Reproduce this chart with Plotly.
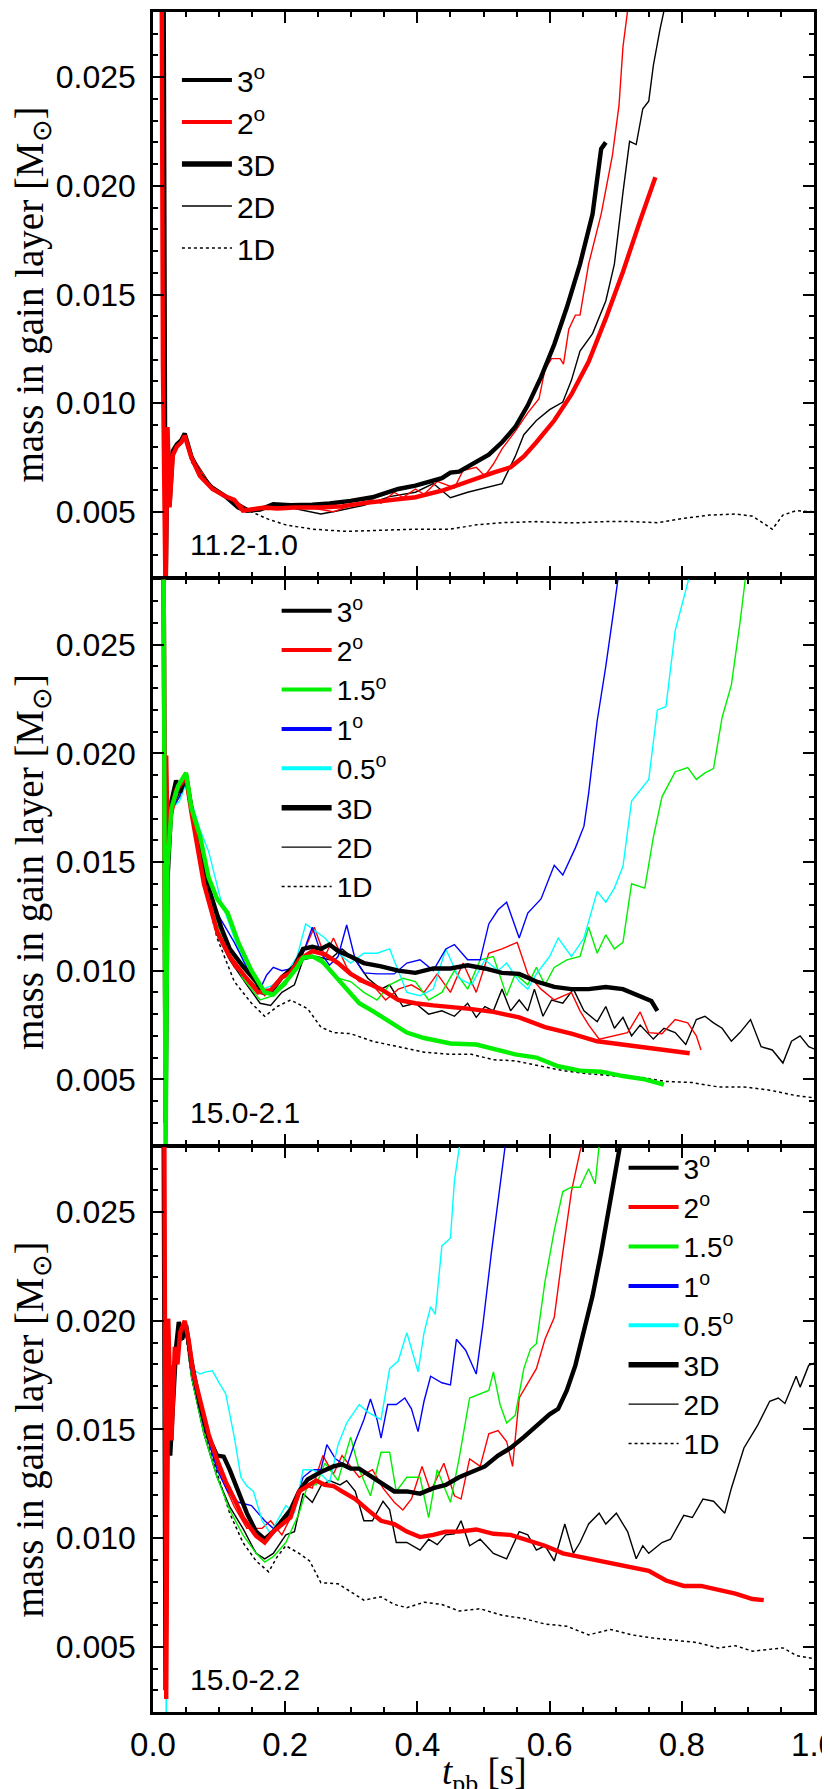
import plotly.graph_objects as go
from plotly.subplots import make_subplots

# ---------------- data: (t_pb [s], mass in gain layer [1e-3 Msun]) ----------------
# Panel 1: 11.2-1.0
p1_3d_3deg = [(0.012, 40), (0.016, 30), (0.019, 1.0), (0.022, 8.5), (0.025, 5.3), (0.030, 7.8), (0.036, 8.1), (0.043, 8.3), (0.048, 8.6), (0.053, 8.0), (0.058, 7.55), (0.071, 6.7), (0.090, 6.1), (0.110, 5.7), (0.129, 5.2), (0.142, 5.05), (0.162, 5.1), (0.182, 5.35), (0.208, 5.3), (0.241, 5.33), (0.267, 5.38), (0.299, 5.5), (0.332, 5.67), (0.371, 6.05), (0.397, 6.2), (0.437, 6.55), (0.450, 6.8), (0.463, 6.85), (0.489, 7.3), (0.508, 7.63), (0.528, 8.2), (0.548, 8.9), (0.567, 9.9), (0.587, 11.2), (0.607, 12.7), (0.626, 14.4), (0.646, 16.4), (0.665, 18.7), (0.678, 21.7), (0.685, 22.0)]
p1_3d_2deg = [(0.012, 40), (0.015, 11.7), (0.019, 1.0), (0.022, 8.9), (0.025, 5.2), (0.030, 7.6), (0.036, 8.0), (0.043, 8.2), (0.048, 8.5), (0.053, 7.9), (0.058, 7.5), (0.071, 6.65), (0.090, 6.05), (0.110, 5.7), (0.123, 5.55), (0.136, 5.05), (0.149, 5.1), (0.169, 5.2), (0.188, 5.15), (0.214, 5.2), (0.254, 5.2), (0.286, 5.25), (0.319, 5.4), (0.358, 5.55), (0.397, 5.67), (0.437, 5.97), (0.476, 6.4), (0.515, 6.8), (0.541, 7.05), (0.561, 7.55), (0.580, 8.2), (0.607, 9.2), (0.633, 10.4), (0.659, 11.9), (0.685, 13.9), (0.711, 16.05), (0.737, 18.4), (0.760, 20.4)]
p1_2d_2deg = [(0.022, 7.0), (0.030, 7.6), (0.040, 8.2), (0.048, 8.5), (0.058, 7.6), (0.090, 6.05), (0.123, 5.55), (0.142, 5.1), (0.175, 5.1), (0.208, 5.25), (0.241, 5.17), (0.273, 5.0), (0.299, 5.3), (0.332, 5.55), (0.345, 5.4), (0.365, 5.9), (0.378, 5.65), (0.397, 6.05), (0.410, 5.8), (0.430, 6.4), (0.456, 6.1), (0.469, 6.9), (0.489, 7.05), (0.502, 6.65), (0.515, 7.2), (0.528, 7.9), (0.548, 8.7), (0.567, 9.55), (0.584, 10.2), (0.593, 11.55), (0.603, 12.05), (0.616, 12.05), (0.621, 11.8), (0.629, 13.4), (0.639, 14.05), (0.646, 14.05), (0.659, 16.4), (0.678, 18.7), (0.695, 21.4), (0.705, 23.7), (0.711, 26.4), (0.718, 28.05), (0.722, 29.0)]
p1_2d_3deg = [(0.022, 7.2), (0.030, 7.8), (0.040, 8.2), (0.048, 8.5), (0.058, 7.6), (0.090, 6.1), (0.123, 5.5), (0.149, 5.05), (0.182, 5.35), (0.214, 5.15), (0.254, 4.9), (0.280, 5.05), (0.319, 5.3), (0.358, 5.7), (0.397, 5.9), (0.424, 6.3), (0.450, 5.65), (0.476, 5.9), (0.502, 6.1), (0.528, 6.3), (0.548, 7.55), (0.561, 8.55), (0.580, 9.2), (0.600, 9.7), (0.620, 10.05), (0.633, 11.05), (0.646, 12.4), (0.665, 13.2), (0.685, 14.7), (0.698, 16.4), (0.711, 19.7), (0.721, 22.05), (0.731, 21.9), (0.741, 23.55), (0.750, 23.9), (0.757, 25.55), (0.767, 27.2), (0.773, 28.05), (0.776, 29.0)]
p1_1d = [(0.022, 7.0), (0.035, 7.9), (0.048, 8.4), (0.058, 7.3), (0.090, 6.05), (0.123, 5.5), (0.149, 5.0), (0.175, 4.65), (0.201, 4.4), (0.241, 4.2), (0.293, 4.1), (0.345, 4.15), (0.397, 4.2), (0.450, 4.2), (0.489, 4.4), (0.528, 4.5), (0.580, 4.55), (0.620, 4.5), (0.646, 4.5), (0.685, 4.55), (0.724, 4.55), (0.763, 4.5), (0.803, 4.7), (0.842, 4.85), (0.881, 4.9), (0.907, 4.8), (0.920, 4.55), (0.937, 4.2), (0.953, 4.85), (0.973, 5.05), (0.999, 5.0)]

# Panel 2: 15.0-2.1
p2_3d_3deg = [(0.012, 40), (0.016, 30), (0.019, 3.0), (0.022, 14.2), (0.028, 17.8), (0.035, 18.75), (0.041, 18.2), (0.050, 19.0), (0.058, 17.5), (0.067, 16.2), (0.077, 14.5), (0.090, 13.2), (0.103, 12.0), (0.116, 11.0), (0.136, 10.2), (0.156, 9.5), (0.165, 9.0), (0.178, 9.0), (0.195, 9.7), (0.214, 10.2), (0.227, 11.0), (0.241, 11.1), (0.254, 11.0), (0.267, 11.2), (0.280, 10.9), (0.299, 10.65), (0.319, 10.35), (0.345, 10.2), (0.371, 10.0), (0.397, 9.9), (0.424, 10.1), (0.450, 10.1), (0.476, 10.25), (0.502, 10.1), (0.528, 9.9), (0.554, 9.85), (0.580, 9.5), (0.607, 9.25), (0.633, 9.15), (0.659, 9.15), (0.685, 9.25), (0.711, 9.15), (0.737, 8.85), (0.754, 8.6), (0.763, 8.15)]
p2_3d_2deg = [(0.012, 40), (0.016, 30), (0.019, 3.0), (0.020, 19.9), (0.022, 16.0), (0.028, 17.3), (0.035, 18.3), (0.050, 18.9), (0.058, 17.3), (0.077, 14.0), (0.097, 11.8), (0.116, 10.65), (0.136, 9.85), (0.159, 9.0), (0.178, 9.1), (0.195, 9.7), (0.208, 9.9), (0.221, 10.5), (0.241, 10.9), (0.260, 10.75), (0.280, 10.35), (0.299, 9.85), (0.319, 9.5), (0.345, 9.15), (0.371, 8.65), (0.397, 8.5), (0.424, 8.4), (0.450, 8.35), (0.476, 8.25), (0.515, 8.1), (0.554, 7.85), (0.593, 7.4), (0.633, 7.1), (0.672, 6.75), (0.711, 6.6), (0.750, 6.4), (0.790, 6.25), (0.812, 6.2)]
p2_3d_15deg = [(0.012, 40), (0.016, 30), (0.019, 1.0), (0.022, 14.8), (0.028, 17.5), (0.038, 18.5), (0.050, 19.1), (0.058, 17.5), (0.071, 16.2), (0.084, 14.3), (0.097, 13.3), (0.113, 12.65), (0.129, 11.3), (0.149, 10.0), (0.169, 9.0), (0.182, 8.9), (0.201, 9.5), (0.218, 10.15), (0.227, 10.6), (0.241, 10.65), (0.254, 10.5), (0.273, 9.85), (0.293, 9.15), (0.312, 8.5), (0.332, 8.15), (0.358, 7.65), (0.384, 7.15), (0.410, 6.9), (0.450, 6.65), (0.489, 6.6), (0.515, 6.4), (0.548, 6.15), (0.580, 6.0), (0.613, 5.6), (0.646, 5.4), (0.678, 5.35), (0.711, 5.15), (0.744, 5.0), (0.773, 4.75)]
p2_2d_1deg = [(0.022, 15.0), (0.030, 17.5), (0.040, 18.0), (0.050, 18.8), (0.058, 17.65), (0.077, 14.8), (0.097, 12.65), (0.116, 11.65), (0.123, 11.3), (0.142, 10.15), (0.162, 9.15), (0.172, 9.8), (0.182, 10.15), (0.195, 10.0), (0.211, 10.1), (0.227, 10.8), (0.241, 12.0), (0.254, 10.8), (0.267, 10.25), (0.280, 10.65), (0.293, 12.1), (0.306, 10.5), (0.319, 9.9), (0.339, 9.85), (0.365, 9.85), (0.384, 10.35), (0.404, 10.5), (0.424, 10.0), (0.443, 11.0), (0.456, 11.2), (0.476, 10.5), (0.495, 10.5), (0.508, 12.15), (0.522, 12.8), (0.535, 13.15), (0.554, 11.5), (0.567, 12.65), (0.587, 13.3), (0.607, 14.85), (0.620, 14.4), (0.639, 15.65), (0.652, 16.65), (0.659, 18.15), (0.672, 21.5), (0.685, 24.0), (0.698, 26.8), (0.705, 28.2), (0.710, 29.5)]
p2_2d_05deg = [(0.022, 15.0), (0.030, 17.5), (0.040, 17.8), (0.050, 18.6), (0.058, 17.8), (0.071, 16.5), (0.084, 15.5), (0.103, 13.2), (0.123, 11.5), (0.142, 10.0), (0.162, 9.1), (0.182, 9.35), (0.201, 9.85), (0.218, 10.65), (0.231, 12.15), (0.247, 11.8), (0.260, 11.5), (0.280, 10.8), (0.299, 10.35), (0.319, 10.8), (0.339, 10.8), (0.358, 11.0), (0.371, 10.0), (0.384, 9.0), (0.404, 8.85), (0.424, 9.15), (0.443, 11.0), (0.463, 9.65), (0.482, 9.35), (0.502, 10.5), (0.522, 10.0), (0.535, 10.35), (0.554, 9.5), (0.567, 9.15), (0.580, 9.85), (0.600, 10.65), (0.613, 11.5), (0.633, 10.65), (0.652, 11.5), (0.672, 13.65), (0.685, 13.15), (0.698, 13.8), (0.711, 14.8), (0.724, 17.8), (0.737, 18.3), (0.750, 18.8), (0.763, 22.0), (0.776, 22.15), (0.790, 25.65), (0.803, 27.15), (0.812, 28.2), (0.818, 29.5)]
p2_2d_15deg = [(0.022, 15.0), (0.030, 17.5), (0.040, 18.0), (0.050, 18.8), (0.058, 17.5), (0.077, 14.5), (0.097, 12.15), (0.116, 10.8), (0.136, 9.65), (0.162, 8.65), (0.182, 8.85), (0.201, 9.35), (0.221, 10.5), (0.241, 10.6), (0.260, 10.25), (0.280, 9.65), (0.299, 9.5), (0.319, 9.0), (0.339, 8.65), (0.358, 9.35), (0.378, 9.65), (0.397, 9.5), (0.417, 8.65), (0.437, 9.0), (0.456, 10.0), (0.476, 9.15), (0.495, 10.5), (0.515, 10.65), (0.535, 8.85), (0.548, 9.85), (0.567, 9.35), (0.580, 10.15), (0.593, 9.35), (0.607, 10.15), (0.626, 10.5), (0.646, 10.65), (0.659, 12.0), (0.672, 10.8), (0.685, 11.65), (0.698, 11.0), (0.711, 11.3), (0.724, 14.0), (0.744, 13.8), (0.757, 16.15), (0.770, 18.0), (0.790, 19.15), (0.809, 19.35), (0.822, 18.8), (0.835, 19.1), (0.848, 19.3), (0.861, 21.65), (0.875, 23.15), (0.888, 26.0), (0.897, 28.2), (0.902, 29.5)]
p2_2d_2deg = [(0.022, 15.0), (0.030, 17.5), (0.040, 18.0), (0.050, 18.8), (0.058, 17.3), (0.077, 14.3), (0.097, 11.65), (0.123, 10.15), (0.149, 9.5), (0.169, 8.85), (0.188, 9.5), (0.208, 9.85), (0.227, 10.8), (0.244, 12.0), (0.260, 10.65), (0.273, 11.5), (0.293, 10.15), (0.312, 9.5), (0.332, 9.35), (0.352, 8.65), (0.371, 9.15), (0.391, 9.35), (0.410, 9.0), (0.430, 9.85), (0.450, 9.0), (0.469, 10.35), (0.489, 9.0), (0.508, 10.8), (0.528, 11.0), (0.551, 11.3), (0.567, 9.85), (0.587, 9.15), (0.607, 8.65), (0.633, 9.0), (0.646, 8.15), (0.659, 7.5), (0.675, 6.85), (0.698, 7.0), (0.718, 7.15), (0.737, 8.1), (0.750, 7.15), (0.770, 7.1), (0.790, 7.75), (0.809, 7.6), (0.822, 7.0), (0.829, 6.35)]
p2_2d_3deg = [(0.022, 15.0), (0.030, 17.5), (0.040, 18.2), (0.050, 18.8), (0.058, 17.5), (0.077, 14.3), (0.097, 11.65), (0.116, 10.5), (0.142, 9.35), (0.162, 8.5), (0.178, 8.4), (0.195, 9.0), (0.214, 9.35), (0.227, 10.5), (0.247, 10.65), (0.267, 10.5), (0.286, 11.0), (0.306, 10.5), (0.325, 9.65), (0.345, 9.15), (0.358, 9.35), (0.378, 8.35), (0.397, 8.5), (0.417, 8.0), (0.437, 8.15), (0.456, 7.9), (0.476, 8.5), (0.489, 7.85), (0.502, 8.35), (0.515, 8.15), (0.528, 9.15), (0.541, 8.15), (0.554, 8.65), (0.567, 8.15), (0.577, 9.15), (0.590, 7.9), (0.603, 8.65), (0.620, 8.5), (0.636, 9.15), (0.652, 8.15), (0.672, 7.65), (0.685, 8.35), (0.698, 7.35), (0.711, 7.85), (0.724, 7.0), (0.737, 7.5), (0.757, 6.85), (0.773, 7.35), (0.790, 7.15), (0.806, 6.6), (0.822, 7.75), (0.835, 7.9), (0.848, 7.6), (0.861, 7.35), (0.875, 6.75), (0.888, 7.15), (0.904, 7.75), (0.920, 6.5), (0.937, 6.35), (0.953, 5.75), (0.966, 6.75), (0.979, 7.0), (0.992, 6.5), (1.000, 6.4)]
p2_1d = [(0.022, 15.0), (0.030, 17.5), (0.040, 18.0), (0.050, 18.6), (0.058, 17.3), (0.077, 14.0), (0.097, 11.5), (0.123, 9.5), (0.149, 8.5), (0.169, 7.9), (0.188, 8.35), (0.208, 8.65), (0.234, 8.25), (0.254, 7.4), (0.273, 7.15), (0.299, 7.1), (0.332, 6.75), (0.371, 6.5), (0.410, 6.25), (0.450, 6.15), (0.482, 6.15), (0.515, 5.9), (0.548, 5.85), (0.580, 5.65), (0.620, 5.4), (0.659, 5.25), (0.698, 5.15), (0.737, 5.1), (0.776, 4.9), (0.816, 4.85), (0.855, 4.65), (0.894, 4.65), (0.933, 4.5), (0.973, 4.25), (1.000, 4.15)]

# Panel 3: 15.0-2.2
p3_3d_3deg = [(0.012, 40), (0.016, 30), (0.019, 3.0), (0.022, 16.0), (0.026, 13.8), (0.031, 16.45), (0.035, 18.8), (0.039, 19.95), (0.044, 19.15), (0.050, 19.8), (0.058, 18.15), (0.071, 16.15), (0.084, 14.65), (0.097, 13.8), (0.107, 13.75), (0.116, 13.15), (0.129, 12.15), (0.142, 11.15), (0.156, 10.3), (0.169, 9.95), (0.182, 10.3), (0.195, 10.8), (0.208, 11.3), (0.221, 12.15), (0.234, 12.7), (0.254, 13.05), (0.273, 13.3), (0.286, 13.4), (0.299, 13.2), (0.312, 13.2), (0.325, 12.95), (0.345, 12.55), (0.365, 12.15), (0.384, 12.15), (0.404, 12.05), (0.424, 12.3), (0.443, 12.45), (0.463, 12.8), (0.482, 13.05), (0.502, 13.3), (0.522, 13.8), (0.541, 14.15), (0.561, 14.65), (0.580, 15.15), (0.600, 15.7), (0.613, 15.95), (0.626, 16.8), (0.639, 17.95), (0.652, 19.45), (0.665, 21.15), (0.678, 23.15), (0.692, 25.45), (0.705, 27.8), (0.708, 28.1), (0.712, 29.0)]
p3_3d_2deg = [(0.012, 40), (0.017, 30), (0.020, 2.6), (0.023, 20.1), (0.028, 14.5), (0.033, 18.8), (0.037, 18.0), (0.041, 19.45), (0.048, 20.0), (0.054, 19.1), (0.061, 17.6), (0.071, 16.45), (0.084, 14.8), (0.097, 13.6), (0.110, 12.6), (0.123, 11.8), (0.136, 10.95), (0.156, 10.1), (0.169, 9.8), (0.182, 10.3), (0.195, 10.65), (0.208, 10.95), (0.221, 12.15), (0.234, 12.4), (0.247, 12.65), (0.260, 12.45), (0.273, 12.4), (0.286, 12.15), (0.306, 11.8), (0.325, 11.3), (0.345, 10.8), (0.365, 10.65), (0.384, 10.3), (0.404, 10.05), (0.424, 10.15), (0.443, 10.3), (0.463, 10.3), (0.489, 10.4), (0.515, 10.2), (0.541, 10.15), (0.567, 9.9), (0.593, 9.65), (0.620, 9.3), (0.646, 9.15), (0.672, 9.0), (0.698, 8.8), (0.724, 8.65), (0.750, 8.5), (0.776, 8.05), (0.803, 7.8), (0.829, 7.8), (0.855, 7.65), (0.881, 7.45), (0.907, 7.2), (0.924, 7.15)]
p3_2d_05deg = [(0.017, 30), (0.020, 1.0), (0.023, 17.0), (0.030, 18.0), (0.040, 19.0), (0.050, 19.5), (0.058, 17.8), (0.071, 17.55), (0.080, 17.65), (0.090, 17.7), (0.100, 17.15), (0.110, 16.65), (0.123, 14.65), (0.133, 12.8), (0.142, 12.4), (0.152, 12.15), (0.165, 10.8), (0.178, 10.2), (0.188, 10.8), (0.201, 11.5), (0.214, 11.15), (0.227, 13.15), (0.241, 13.15), (0.254, 12.95), (0.267, 12.55), (0.280, 14.3), (0.293, 15.3), (0.312, 16.15), (0.325, 15.8), (0.345, 15.45), (0.358, 17.8), (0.371, 18.15), (0.384, 19.45), (0.401, 17.65), (0.410, 19.45), (0.420, 20.65), (0.427, 20.3), (0.437, 23.45), (0.450, 23.8), (0.456, 26.45), (0.464, 28.1), (0.468, 29.5)]
p3_2d_1deg = [(0.022, 17.0), (0.030, 18.0), (0.040, 19.0), (0.050, 19.5), (0.058, 17.65), (0.077, 15.15), (0.097, 13.15), (0.113, 12.15), (0.129, 11.65), (0.149, 11.5), (0.169, 10.8), (0.182, 10.45), (0.195, 10.55), (0.214, 11.5), (0.227, 12.8), (0.241, 13.15), (0.254, 13.15), (0.263, 14.3), (0.276, 13.65), (0.293, 13.3), (0.306, 14.45), (0.319, 15.45), (0.329, 16.4), (0.339, 15.45), (0.345, 14.6), (0.355, 16.15), (0.368, 16.15), (0.381, 16.45), (0.391, 15.95), (0.401, 14.9), (0.410, 16.3), (0.420, 17.45), (0.437, 17.15), (0.450, 17.05), (0.459, 19.15), (0.473, 18.65), (0.489, 17.55), (0.499, 19.8), (0.512, 23.15), (0.525, 26.15), (0.533, 28.1), (0.537, 29.5)]
p3_2d_15deg = [(0.017, 30), (0.020, 3.0), (0.023, 17.0), (0.030, 18.0), (0.040, 19.0), (0.050, 19.5), (0.058, 17.45), (0.077, 14.8), (0.097, 12.8), (0.116, 11.3), (0.136, 10.15), (0.156, 9.3), (0.169, 8.9), (0.182, 9.15), (0.201, 9.8), (0.221, 11.15), (0.234, 12.45), (0.247, 12.45), (0.260, 13.45), (0.280, 12.65), (0.299, 14.65), (0.312, 13.15), (0.329, 11.95), (0.345, 13.95), (0.358, 13.95), (0.368, 12.15), (0.384, 12.8), (0.404, 12.8), (0.417, 10.95), (0.430, 13.15), (0.450, 11.65), (0.463, 13.65), (0.479, 16.45), (0.495, 16.65), (0.508, 16.8), (0.515, 17.65), (0.525, 16.15), (0.535, 15.3), (0.548, 15.65), (0.561, 17.8), (0.571, 18.7), (0.580, 18.95), (0.593, 21.8), (0.607, 24.15), (0.620, 25.95), (0.633, 26.15), (0.646, 26.15), (0.659, 27.0), (0.669, 26.3), (0.675, 28.1), (0.680, 29.5)]
p3_2d_2deg = [(0.022, 17.0), (0.030, 18.0), (0.040, 19.0), (0.050, 19.5), (0.058, 17.65), (0.084, 14.45), (0.103, 12.8), (0.123, 11.45), (0.142, 10.45), (0.165, 10.45), (0.178, 10.8), (0.195, 10.15), (0.214, 11.3), (0.227, 12.45), (0.241, 12.3), (0.257, 13.8), (0.273, 12.95), (0.286, 13.8), (0.299, 13.3), (0.312, 12.8), (0.332, 13.15), (0.348, 12.3), (0.365, 11.65), (0.378, 11.3), (0.391, 11.8), (0.407, 13.3), (0.420, 12.15), (0.440, 13.45), (0.456, 11.95), (0.466, 11.8), (0.479, 13.65), (0.495, 13.3), (0.508, 14.8), (0.522, 14.95), (0.535, 14.45), (0.544, 13.3), (0.554, 16.45), (0.567, 17.15), (0.580, 17.8), (0.593, 19.15), (0.607, 20.15), (0.620, 23.15), (0.633, 25.95), (0.646, 27.8), (0.649, 28.1), (0.653, 29.5)]
p3_2d_3deg = [(0.022, 17.0), (0.030, 18.0), (0.040, 19.2), (0.050, 19.5), (0.058, 17.45), (0.077, 14.8), (0.097, 12.8), (0.116, 11.45), (0.136, 10.45), (0.156, 9.3), (0.169, 9.05), (0.182, 9.3), (0.201, 10.15), (0.214, 10.3), (0.227, 12.05), (0.241, 11.65), (0.254, 12.4), (0.267, 12.65), (0.283, 12.45), (0.293, 12.65), (0.306, 12.15), (0.319, 10.8), (0.332, 10.8), (0.348, 11.7), (0.358, 11.3), (0.368, 9.8), (0.384, 9.8), (0.404, 9.45), (0.417, 9.95), (0.430, 9.7), (0.443, 10.15), (0.456, 10.2), (0.466, 10.8), (0.479, 9.65), (0.495, 9.95), (0.515, 9.3), (0.535, 9.05), (0.554, 10.3), (0.567, 10.15), (0.580, 9.45), (0.593, 9.65), (0.607, 8.95), (0.623, 10.65), (0.636, 9.3), (0.646, 9.8), (0.659, 10.65), (0.675, 11.15), (0.685, 10.65), (0.701, 11.15), (0.718, 10.3), (0.731, 9.05), (0.741, 9.65), (0.750, 9.3), (0.770, 9.8), (0.783, 9.95), (0.803, 11.05), (0.816, 10.95), (0.832, 11.8), (0.848, 11.7), (0.865, 11.15), (0.875, 12.3), (0.894, 14.15), (0.914, 15.15), (0.933, 16.3), (0.946, 16.45), (0.956, 16.2), (0.973, 17.45), (0.979, 16.95), (0.992, 17.95), (1.000, 18.05)]
p3_1d = [(0.022, 17.0), (0.030, 18.0), (0.040, 19.0), (0.050, 19.3), (0.058, 17.45), (0.077, 14.95), (0.097, 13.0), (0.116, 11.15), (0.136, 9.8), (0.156, 8.95), (0.175, 8.45), (0.188, 9.15), (0.201, 9.65), (0.221, 9.3), (0.237, 8.95), (0.254, 7.95), (0.280, 7.9), (0.299, 7.55), (0.319, 7.15), (0.345, 7.3), (0.365, 6.95), (0.384, 6.8), (0.410, 7.05), (0.437, 6.95), (0.463, 6.65), (0.495, 6.75), (0.528, 6.45), (0.561, 6.3), (0.593, 6.05), (0.626, 5.95), (0.659, 5.55), (0.692, 5.8), (0.724, 5.55), (0.757, 5.4), (0.790, 5.3), (0.822, 5.2), (0.855, 4.95), (0.881, 5.05), (0.907, 4.8), (0.933, 4.9), (0.953, 4.95), (0.973, 4.6), (1.000, 4.45)]

panel_labels = ["11.2-1.0", "15.0-2.1", "15.0-2.2"]
y_tick_values = [0.005, 0.010, 0.015, 0.020, 0.025]
x_tick_values = [0.0, 0.2, 0.4, 0.6, 0.8, 1.0]
legend_res_p1 = ["3", "2"]
legend_res_p23 = ["3", "2", "1.5", "1", "0.5"]

# ---------------- styles ----------------
RED, GREEN, BLUE, CYAN, BLACK = "#ff0000", "#00f000", "#0000ff", "#00ffff", "#000000"
THICK, THIN = 4.4, 1.4
COLOR = {"3": BLACK, "2": RED, "1.5": GREEN, "1": BLUE, "0.5": CYAN}

W, H = 830, 1789
ML, MR, MT, MB = 145, 22, 1, 85
AXLW = 2.5
PLOT_H = H - MT - MB

fig = make_subplots(rows=3, cols=1, shared_xaxes=True, vertical_spacing=AXLW / PLOT_H)


def add(series, row, color, width, dash="solid"):
    t = [p[0] for p in series]
    m = [p[1] * 1e-3 for p in series]
    fig.add_trace(go.Scatter(x=t, y=m, mode="lines", showlegend=False, hoverinfo="skip",
                             line=dict(color=color, width=width, dash=dash, shape="linear")),
                  row=row, col=1)


# panel 1
add(p1_1d, 1, BLACK, 1.5, "dot")
add(p1_2d_3deg, 1, BLACK, THIN)
add(p1_2d_2deg, 1, RED, THIN)
add(p1_3d_3deg, 1, BLACK, THICK)
add(p1_3d_2deg, 1, RED, THICK)
# panel 2
add(p2_1d, 2, BLACK, 1.5, "dot")
add(p2_2d_3deg, 2, BLACK, THIN)
add(p2_2d_2deg, 2, RED, THIN)
add(p2_2d_15deg, 2, GREEN, THIN)
add(p2_2d_05deg, 2, CYAN, THIN)
add(p2_2d_1deg, 2, BLUE, THIN)
add(p2_3d_3deg, 2, BLACK, THICK)
add(p2_3d_2deg, 2, RED, THICK)
add(p2_3d_15deg, 2, GREEN, THICK)
# panel 3
add(p3_1d, 3, BLACK, 1.5, "dot")
add(p3_2d_3deg, 3, BLACK, THIN)
add(p3_2d_2deg, 3, RED, THIN)
add(p3_2d_15deg, 3, GREEN, THIN)
add(p3_2d_1deg, 3, BLUE, THIN)
add(p3_2d_05deg, 3, CYAN, THIN)
add(p3_3d_3deg, 3, BLACK, THICK)
add(p3_3d_2deg, 3, RED, THICK)


def legend_entries(row, legend_id, res_list):
    for r in res_list:
        fig.add_trace(go.Scatter(x=[None], y=[None], mode="lines", name=f"{r}<sup>o</sup>",
                                 line=dict(color=COLOR[r], width=4), legend=legend_id,
                                 showlegend=True), row=row, col=1)
    for name, w, d in [("3D", 5.5, "solid"), ("2D", 1.4, "solid"), ("1D", 1.5, "dot")]:
        fig.add_trace(go.Scatter(x=[None], y=[None], mode="lines", name=name,
                                 line=dict(color=BLACK, width=w, dash=d), legend=legend_id,
                                 showlegend=True), row=row, col=1)


legend_entries(1, "legend", legend_res_p1)
legend_entries(2, "legend2", legend_res_p23)
legend_entries(3, "legend3", legend_res_p23)

SANS = "Liberation Sans, Arial, sans-serif"
SERIF = "Liberation Serif, Times New Roman, serif"


def px_to_paper_x(px):
    return (px - ML) / (W - ML - MR)


def px_to_paper_y(py):
    return 1 - (py - MT) / PLOT_H


leg_common = dict(bgcolor="rgba(0,0,0,0)", borderwidth=0, xanchor="left", yanchor="top",
                  tracegroupgap=0, traceorder="normal", itemwidth=50)
fig.update_layout(
    width=W, height=H,
    margin=dict(l=ML, r=MR, t=MT, b=MB),
    plot_bgcolor="white", paper_bgcolor="white",
    showlegend=True,
    legend=dict(**leg_common, x=px_to_paper_x(169), y=px_to_paper_y(43), font=dict(family=SANS, size=30, color="black")),
    legend2=dict(**leg_common, x=px_to_paper_x(269), y=px_to_paper_y(576), font=dict(family=SANS, size=28, color="black")),
    legend3=dict(**leg_common, x=px_to_paper_x(617), y=px_to_paper_y(1134), font=dict(family=SANS, size=28, color="black")),
)

for row in (1, 2, 3):
    fig.update_xaxes(range=[0, 1.0], showline=True, linewidth=AXLW, linecolor="black", mirror="allticks",
                     ticks="inside", ticklen=11, tickwidth=2, tickcolor="black",
                     tickvals=x_tick_values, tickformat=".1f", ticklabelstandoff=2,
                     ticklabeloverflow="allow",
                     minor=dict(dtick=0.05, tick0=0, ticks="inside", ticklen=5, tickwidth=2, tickcolor="black"),
                     showgrid=False, zeroline=False, showticklabels=(row == 3),
                     tickfont=dict(family=SANS, size=33, color="black"), row=row, col=1)
    fig.update_yaxes(range=[0.002, 0.028], showline=True, linewidth=AXLW, linecolor="black", mirror="allticks",
                     ticks="inside", ticklen=11, tickwidth=2, tickcolor="black",
                     tickvals=y_tick_values, tickformat=".3f", ticklabelstandoff=8,
                     minor=dict(dtick=0.001, tick0=0, ticks="inside", ticklen=5, tickwidth=2, tickcolor="black"),
                     showgrid=False, zeroline=False,
                     tickfont=dict(family=SANS, size=32, color="black"),
                     title=dict(text="mass in gain layer [M<sub>⊙</sub>]", standoff=10,
                                font=dict(family=SERIF, size=39, color="black")),
                     row=row, col=1)

# x-axis title placed just under the tick labels
fig.add_annotation(text="<i>t</i><sub>pb</sub> [s]", xref="paper", yref="paper",
                   x=0.5, y=px_to_paper_y(1767), xanchor="center", yanchor="middle", showarrow=False,
                   font=dict(family=SERIF, size=37, color="black"))

for row, label in zip((1, 2, 3), panel_labels):
    xref = "x domain" if row == 1 else f"x{row} domain"
    yref = "y domain" if row == 1 else f"y{row} domain"
    fig.add_annotation(text=label, xref=xref, yref=yref, x=0.053, y=0.057, xanchor="left", yanchor="middle",
                       showarrow=False, font=dict(family=SANS, size=30, color="black"))

fig.write_html("out.html")
